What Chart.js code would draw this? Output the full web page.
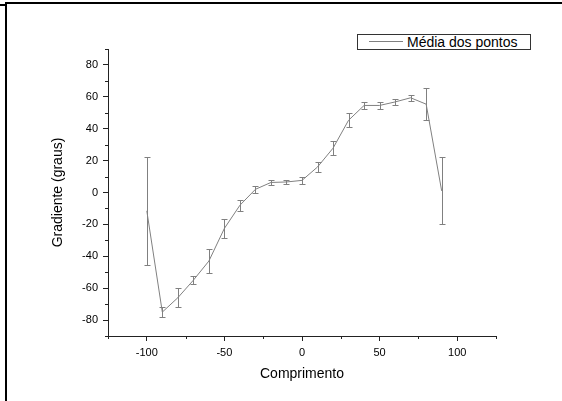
<!DOCTYPE html>
<html>
<head>
<meta charset="utf-8">
<script src="https://cdn.jsdelivr.net/npm/chart.js@4/dist/chart.umd.min.js"></script>
<style>
  html, body { margin: 0; padding: 0; background: #fff; }
  #wrap { position: relative; width: 562px; height: 401px; overflow: hidden; font-family: "Liberation Sans", Arial, sans-serif; }
  #c { position: absolute; left: 0; top: 0; }
  .frame { position: absolute; background: #000; }
  #legend { position: absolute; left: 357px; top: 34px; width: 172px; height: 14px; border: 1px solid #333; background: #fff; }
  #legend .sample { position: absolute; left: 11px; top: 6px; width: 34px; height: 1px; background: #808080; }
  #legend .txt { position: absolute; left: 49px; top: -1px; font-size: 14px; line-height: 16px; color: #000; white-space: nowrap; }
</style>
</head>
<body>
<div id="wrap">
  <canvas id="c" width="562" height="401"></canvas>
  <div class="frame" style="left:5px; top:2px; width:2px; height:399px;"></div>
  <div class="frame" style="left:5px; top:2px; width:557px; height:2px;"></div>
  <div class="frame" style="left:0px; top:4px; width:5px; height:2px;"></div>
  <div id="legend"><div class="sample"></div><div class="txt">Média dos pontos</div></div>
</div>
<script>
// ---- data ----
const seriesName = 'Média dos pontos';
const xValues = [-100, -90, -80, -70, -60, -50, -40, -30, -20, -10, 0, 10, 20, 30, 40, 50, 60, 70, 80, 90];
const meanValues = [-11.5, -75, -66, -55, -43, -22.5, -8, 2, 6.3, 6.6, 7.6, 16, 27.8, 45.3, 54.6, 54.6, 56.8, 59.4, 55.4, 1];
const errorValues = [34, 3, 6, 2.7, 7.3, 6, 3.5, 2, 1.5, 1.5, 2, 3.1, 4.3, 4.5, 2.1, 2.1, 1.8, 1.7, 10, 21];
const xTickValues = [-100, -50, 0, 50, 100];
const yTickValues = [-80, -60, -40, -20, 0, 20, 40, 60, 80];
const xMinorTicks = [-125, -75, -25, 25, 75, 125];
const yMinorTicks = [-90, -70, -50, -30, -10, 10, 30, 50, 70, 90];
const xLabel = 'Comprimento';
const yLabel = 'Gradiente (graus)';

const FONT = "'Liberation Sans', Arial, sans-serif";
const AXIS = '#222';
const LINE = '#808080';

const points = xValues.map((x, i) => ({ x: x, y: meanValues[i] }));

const errorBars = {
  id: 'errorBars',
  afterDatasetsDraw(chart) {
    const ctx = chart.ctx, xs = chart.scales.x, ys = chart.scales.y;
    ctx.save();
    ctx.strokeStyle = LINE;
    ctx.lineWidth = 1;
    ctx.beginPath();
    xValues.forEach((xv, i) => {
      const px = Math.round(xs.getPixelForValue(xv)) + 0.5;
      const t = Math.round(ys.getPixelForValue(meanValues[i] + errorValues[i])) + 0.5;
      const b = Math.round(ys.getPixelForValue(meanValues[i] - errorValues[i])) + 0.5;
      ctx.moveTo(px, t); ctx.lineTo(px, b);
      ctx.moveTo(px - 3, t); ctx.lineTo(px + 3, t);
      ctx.moveTo(px - 3, b); ctx.lineTo(px + 3, b);
    });
    ctx.stroke();
    ctx.restore();
  }
};

const minorTicks = {
  id: 'minorTicks',
  afterDraw(chart) {
    const ctx = chart.ctx, xs = chart.scales.x, ys = chart.scales.y, a = chart.chartArea;
    ctx.save();
    ctx.strokeStyle = AXIS;
    ctx.lineWidth = 1;
    ctx.beginPath();
    xMinorTicks.forEach(v => {
      const px = Math.round(xs.getPixelForValue(v)) + 0.5;
      ctx.moveTo(px, a.bottom); ctx.lineTo(px, a.bottom + 3);
    });
    yMinorTicks.forEach(v => {
      const py = Math.round(ys.getPixelForValue(v)) + 0.5;
      ctx.moveTo(a.left - 3, py); ctx.lineTo(a.left, py);
    });
    ctx.stroke();
    ctx.restore();
  }
};

new Chart(document.getElementById('c'), {
  type: 'line',
  data: {
    datasets: [{
      label: seriesName,
      data: points,
      borderColor: LINE,
      backgroundColor: LINE,
      borderWidth: 1,
      pointRadius: 0,
      tension: 0,
      fill: false
    }]
  },
  options: {
    responsive: false,
    animation: false,
    devicePixelRatio: 1,
    layout: { padding: { top: 49, right: 66, left: 0, bottom: 0 } },
    plugins: { legend: { display: false }, tooltip: { enabled: false } },
    scales: {
      x: {
        type: 'linear',
        position: 'bottom',
        min: -125, max: 125,
        afterBuildTicks: s => { s.ticks = xTickValues.map(v => ({ value: v })); },
        afterFit: s => { s.height = 65; },
        ticks: { color: '#000', font: { family: FONT, size: 11 }, padding: 5, maxRotation: 0 },
        grid: { drawOnChartArea: false, drawTicks: true, tickLength: 5, color: AXIS },
        border: { color: AXIS, width: 1 },
        title: { display: true, text: xLabel, color: '#000', font: { family: FONT, size: 14 }, padding: { top: 0, bottom: 18 } }
      },
      y: {
        type: 'linear',
        position: 'left',
        min: -90, max: 90,
        afterBuildTicks: s => { s.ticks = yTickValues.map(v => ({ value: v })); },
        afterFit: s => { s.width = 108; },
        ticks: { color: '#000', font: { family: FONT, size: 11 }, padding: 5 },
        grid: { drawOnChartArea: false, drawTicks: true, tickLength: 5, color: AXIS },
        border: { color: AXIS, width: 1 },
        title: { display: true, text: yLabel, color: '#000', font: { family: FONT, size: 14 }, padding: { top: 50, bottom: 0 } }
      }
    }
  },
  plugins: [errorBars, minorTicks]
});
</script>
</body>
</html>
